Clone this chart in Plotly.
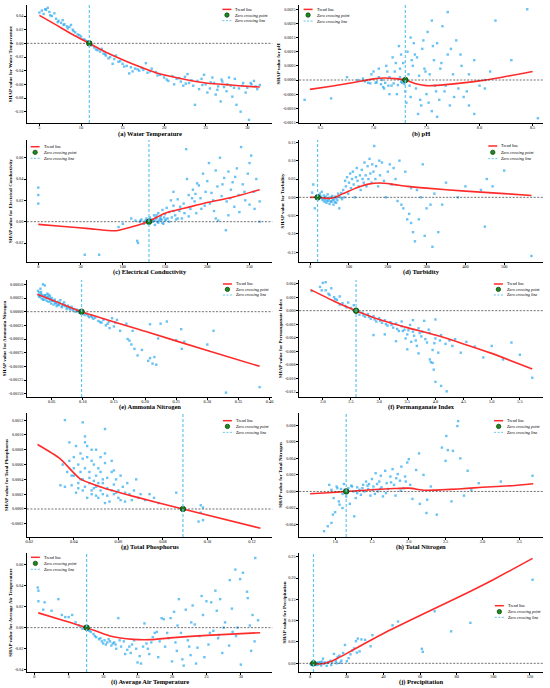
import plotly.graph_objs as go

# ---------------- data ----------------
# (a) Water Temperature
wt_x = [5.0, 5.3, 5.7, 6.0, 6.2, 5.5, 6.5, 6.8, 7.0, 7.3,
        7.6, 8.0, 8.3, 8.6, 9.0, 9.3, 9.6, 10.0, 10.3, 10.7,
        8.8, 7.8, 11.3, 11.6, 12.0, 12.3, 12.7, 13.0, 13.5, 14.0,
        14.5, 15.0, 15.5, 16.0, 16.5, 17.0, 17.5, 18.0, 18.5, 19.0,
        12.5, 14.2, 16.2, 17.8, 19.5, 15.8, 13.8, 20.0, 20.5, 21.0,
        21.5, 22.0, 22.5, 23.0, 23.5, 24.0, 24.5, 25.0, 25.5, 26.0,
        26.5, 27.0, 27.5, 28.0, 28.5, 29.0, 29.5, 30.0, 30.5, 31.0,
        31.5, 22.3, 24.2, 25.2, 26.2, 27.2, 28.2, 28.7, 29.2, 30.2,
        23.7, 26.8, 25.8, 27.8, 21.2, 29.8, 30.8, 24.8, 22.8,
        5.8, 6.3, 7.2, 7.9, 8.4, 9.1, 9.8, 10.5, 11.8, 12.9,
        13.3, 14.7, 15.2, 16.8, 17.3, 18.3, 19.2, 20.3, 21.8, 22.6,
        23.3, 24.6, 25.6, 26.4, 27.6, 28.4, 29.4, 30.4, 31.2, 26.9]
wt_y = [0.045, 0.048, 0.050, 0.052, 0.046, 0.043, 0.040, 0.044, 0.036, 0.033,
        0.030, 0.028, 0.025, 0.024, 0.020, 0.016, 0.013, 0.010, 0.006, 0.003,
        0.027, 0.034, -0.003, -0.006, -0.010, -0.012, -0.015, -0.018, -0.020, -0.023,
        -0.027, -0.030, -0.033, -0.035, -0.037, -0.040, -0.039, -0.043, -0.037, -0.042,
        -0.008, -0.018, -0.041, -0.029, -0.046, -0.044, -0.030, -0.050, -0.055, -0.048,
        -0.052, -0.056, -0.049, -0.058, -0.062, -0.055, -0.052, -0.060, -0.066, -0.058,
        -0.063, -0.056, -0.070, -0.062, -0.052, -0.066, -0.058, -0.065, -0.060, -0.063,
        -0.061, -0.062, -0.067, -0.072, -0.075, -0.064, -0.078, -0.090, -0.100, -0.112,
        -0.090, -0.085, -0.050, -0.050, -0.060, -0.072, -0.055, -0.046, -0.045,
        0.049, 0.041, 0.031, 0.027, 0.022, 0.018, 0.012, 0.005, -0.009, -0.016,
        -0.022, -0.026, -0.034, -0.038, -0.036, -0.041, -0.047, -0.053, -0.051, -0.059,
        -0.054, -0.061, -0.057, -0.068, -0.060, -0.065, -0.062, -0.058, -0.067, -0.053]
wt_trend_x = [5, 7, 9, 11, 13, 15, 17, 19, 21, 23, 25, 27, 29, 31.5]
wt_trend_y = [0.041, 0.027, 0.013, 0.0, -0.013, -0.024, -0.034, -0.043, -0.049,
              -0.054, -0.058, -0.060, -0.062, -0.064]
wt_zero = 11.0

# (b) pH
ph_x = [6.35, 6.6, 6.75, 6.85, 6.9, 6.95, 7.0, 7.02, 7.05, 7.08,
        7.1, 7.12, 7.15, 7.17, 7.18, 7.2, 7.22, 7.24, 7.25, 7.27,
        7.28, 7.3, 7.32, 7.33, 7.35, 7.37, 7.38, 7.4, 7.41, 7.43,
        7.45, 7.46, 7.48, 7.5, 7.51, 7.53, 7.55, 7.57, 7.58, 7.6,
        7.62, 7.63, 7.65, 7.67, 7.7, 7.72, 7.75, 7.78, 7.8, 7.83,
        7.85, 7.9, 7.95, 8.0, 8.05, 8.1, 7.7, 7.55, 8.45, 8.55,
        7.95, 8.15, 8.05, 7.15, 7.05, 6.98, 7.35, 7.42, 7.6, 8.3,
        7.9, 7.25, 7.3, 6.92, 6.97, 7.03, 7.07, 7.11, 7.14, 7.19,
        7.23, 7.26, 7.29,
        7.21, 7.34, 7.39, 7.44, 7.49, 7.52, 7.56, 7.59, 7.64, 7.68,
        7.73, 7.76, 7.82, 7.88, 7.47, 7.36, 7.31, 7.26, 7.13, 7.09]
ph_y = [-0.0007, -0.00065, 0.0001, 0.0, 0.00005, -0.0001, 0.0003, -0.0001, 0.0004, 0.0,
        -0.0003, 0.0005, 0.0001, -0.0002, 0.0008, 0.0003, -0.0005, 0.0012, 0.0001, -0.0001,
        0.0006, -0.0004, 0.001, 0.0002, -0.0006, 0.0005, 0.0013, -0.0003, 0.0008, 0.00015,
        -0.0009, 0.0011, 0.0004, -0.0005, 0.0017, 0.0002, -0.0011, 0.0007, -0.0002, 0.0013,
        -0.0007, 0.0004, 0.0019, -0.0004, 0.0009, -0.0009, 0.0002, 0.0014, -0.0003, 0.0005,
        -0.0006, 0.0002, 0.0007, -0.0002, 0.0, 0.0003, 0.0024, 0.0021, 0.0025, -0.00135,
        -0.0012, 0.0021, -0.0003, -0.0005, 0.0001, 0.0002, 0.0015, -0.0012, -0.0013, 0.0007,
        -0.0009, 0.0004, 0.0, -0.00005, -0.00012, -0.00008, -0.00015, -0.0001, -0.0002, -0.00012,
        -0.00018, -0.00006, -0.00014,
        0.0006, -0.0002, 0.0009, -0.0007, 0.0003, -0.0008, 0.0012, -0.0004, 0.0006, -0.0002,
        0.0011, -0.0006, 0.0009, -0.0004, 0.0014, 0.0007, -0.0008, 0.0009, 0.0003, -0.00025]
ph_trend_x = [6.4, 6.6, 6.8, 7.0, 7.1, 7.2, 7.3, 7.4, 7.5, 7.6, 7.8, 8.0, 8.2, 8.5]
ph_trend_y = [-0.00033, -0.00022, -0.0001, 0.00004, 0.00007, 0.00005, 0.0, -0.00013,
              -0.0002, -0.00019, -0.00012, -0.00003, 0.00009, 0.0003]
ph_zero = 7.3

# (c) Electrical Conductivity
ec_x = [0, 0, 0, 55, 72, 117, 118, 95, 100, 110,
        115, 120, 122, 125, 127, 128, 130, 132, 134, 135,
        137, 138, 140, 142, 143, 145, 147, 148, 150, 152,
        153, 155, 157, 158, 160, 162, 165, 167, 170, 172,
        175, 176, 178, 180, 183, 185, 187, 190, 192, 195,
        197, 200, 202, 205, 207, 210, 212, 213, 215, 217,
        220, 222, 223, 225, 228, 230, 232, 235, 237, 240,
        242, 245, 248, 250, 252, 255, 258, 262, 262, 208,
        188, 165, 225, 160, 129, 131, 133, 136, 139, 141,
        144, 146, 149, 151,
        135, 138, 142, 145, 150, 155, 160, 163, 168, 173,
        178, 182, 186, 193, 198, 203, 210, 218, 227, 233,
        238, 244, 250, 256, 126, 121, 140, 147]
ec_y = [0.032, 0.025, 0.017, -0.031, -0.031, -0.018, -0.020, -0.005, -0.002, 0.003,
        0.001, 0.000, 0.002, -0.002, 0.001, 0.003, -0.001, 0.004, 0.000, 0.002,
        0.006, -0.003, 0.003, 0.008, 0.001, 0.005, 0.011, -0.002, 0.007, 0.013,
        0.003, 0.009, 0.020, 0.004, 0.015, 0.006, 0.021, 0.010, 0.003, 0.017,
        0.068, 0.040, 0.025, 0.012, 0.030, 0.019, 0.008, 0.034, 0.022, 0.045,
        0.015, 0.038, 0.055, 0.027, 0.020, 0.048, 0.033, 0.001, 0.060, 0.024,
        0.041, -0.008, 0.019, 0.047, 0.030, 0.037, 0.014, 0.050, 0.025, 0.070,
        0.035, 0.020, 0.045, 0.016, 0.062, 0.028, 0.040, 0.019, 0.000, 0.010,
        0.036, 0.003, 0.006, 0.028, 0.001, -0.002, 0.002, 0.001, 0.004, 0.000,
        0.003, 0.002, 0.004, 0.002,
        0.000, 0.001, -0.001, 0.002, 0.001, 0.000, 0.010, 0.002, 0.014, 0.008,
        0.005, 0.022, 0.026, 0.012, 0.028, 0.017, 0.003, 0.035, 0.022, 0.042,
        0.009, 0.028, 0.055, 0.012, 0.000, 0.001, 0.006, -0.001]
ec_trend_x = [0, 30, 60, 92, 110, 130, 150, 175, 200, 230, 262]
ec_trend_y = [-0.0025, -0.0045, -0.0065, -0.0085, -0.005, 0.0, 0.008, 0.013, 0.018, 0.023, 0.030]
ec_zero = 131

# (d) Turbidity
tu_x = [5, 8, 12, 20, 22, 25, 27, 30, 32, 35,
        37, 40, 42, 45, 47, 50, 52, 55, 57, 60,
        62, 65, 67, 70, 72, 75, 77, 80, 82, 85,
        88, 90, 92, 95, 98, 100, 103, 105, 108, 110,
        112, 115, 118, 120, 122, 125, 128, 130, 133, 135,
        138, 140, 143, 145, 148, 150, 153, 155, 158, 160,
        163, 165, 168, 170, 175, 178, 180, 185, 190, 195,
        200, 205, 210, 215, 220, 225, 230, 235, 240, 245,
        250, 255, 260, 265, 270, 275, 280, 285, 290, 295,
        310, 315, 320, 330, 340, 350, 400, 440, 450, 455,
        470, 500, 570, 380, 260, 300, 33, 38, 43, 48,
        53, 58, 63, 68, 26, 29]
tu_y = [0.013, 0.035, -0.03, 0.005, -0.005, 0.01, 0.0, 0.015, -0.008, 0.005,
        -0.012, 0.002, -0.015, 0.008, -0.01, -0.018, 0.0, -0.012, 0.004, -0.02,
        -0.006, 0.002, -0.015, -0.008, 0.01, -0.03, 0.0, 0.012, -0.005, 0.02,
        0.0, 0.045, 0.03, 0.055, 0.01, 0.04, 0.065, 0.025, 0.05, 0.07,
        0.035, 0.0, 0.055, 0.08, 0.045, 0.03, 0.06, 0.02, 0.075, 0.05,
        0.04, 0.095, 0.06, 0.03, 0.085, 0.05, 0.105, 0.065, 0.04, 0.09,
        0.07, 0.14, 0.05, 0.085, 0.03, 0.1, 0.06, 0.095, 0.045, 0.0,
        0.07, 0.09, 0.035, 0.08, 0.05, -0.01, 0.1, -0.02, -0.03, 0.07,
        -0.06, -0.045, -0.07, -0.095, -0.12, 0.02, -0.06, 0.0, 0.09, -0.105,
        -0.02, -0.135, 0.01, -0.095, -0.02, 0.04, 0.03, 0.02, -0.08, 0.05,
        0.03, 0.073, -0.16, 0.0, 0.025, -0.03, -0.003, -0.006, -0.009, -0.004,
        -0.011, -0.007, -0.013, -0.002, 0.004, -0.002]
tu_trend_x = [0, 18, 35, 50, 65, 80, 100, 120, 150, 180, 210, 250, 300, 400, 500, 570]
tu_trend_y = [0.0, 0.0, -0.002, -0.003, 0.0, 0.008, 0.017, 0.026, 0.036, 0.039,
              0.036, 0.03, 0.025, 0.017, 0.01, 0.005]
tu_zero = 19

# (e) Ammonia Nitrogen
an_x = [0.028, 0.029, 0.030, 0.031, 0.032, 0.033, 0.034, 0.035, 0.036, 0.037,
        0.038, 0.039, 0.040, 0.041, 0.042, 0.043, 0.044, 0.045, 0.046, 0.047,
        0.048, 0.049, 0.050, 0.052, 0.053, 0.055, 0.056, 0.058, 0.060, 0.062,
        0.064, 0.066, 0.068, 0.070, 0.072, 0.074, 0.076, 0.078, 0.080, 0.082,
        0.085, 0.088, 0.090, 0.093, 0.095, 0.100, 0.103, 0.106, 0.110, 0.113,
        0.117, 0.120, 0.125, 0.130, 0.133, 0.137, 0.140, 0.143, 0.147, 0.150,
        0.155, 0.160, 0.170, 0.172, 0.175, 0.178, 0.180, 0.183, 0.188, 0.195,
        0.205, 0.208, 0.212, 0.215, 0.218, 0.208, 0.225, 0.235, 0.221, 0.250,
        0.263, 0.258, 0.259, 0.300, 0.310, 0.330, 0.384,
        0.030, 0.033, 0.036, 0.039, 0.042, 0.045, 0.048, 0.051, 0.054, 0.057,
        0.060, 0.063, 0.067, 0.071, 0.075, 0.079, 0.084, 0.091, 0.097, 0.108,
        0.115, 0.128, 0.142, 0.152]
an_y = [0.00038, 0.0003, 0.00035, 0.00027, 0.00042, 0.00032, 0.00024, 0.0003, 0.0005, 0.00028,
        0.00022, 0.00048, 0.0003, 0.00025, 0.0002, 0.00033, 0.00027, 0.00018, 0.00024, 0.00029,
        0.0002, 0.00015, 0.00025, 0.0002, 0.00013, 0.00022, 0.00016, 0.0001, 0.00018, 0.00012,
        0.00021, 0.00008, 0.00014, 0.00017, 0.0001, 0.00005, 0.00011, 0.00008, 0.00004, 0.00009,
        0.00005, 0.0, 0.00004, 0.00002, -0.00002, -0.00003, -0.00006, -0.00004, -0.0001, -0.00008,
        -0.00013, -0.00011, -0.00017, -0.0002, -0.00015, -0.00025, -0.00022, -0.0003, -0.00012, -0.00027,
        -0.00015, -0.00035, -0.00022, -0.0005, -0.00053, -0.0006, -0.00035, -0.00068, -0.0008, -0.0007,
        -0.0009, -0.00085, -0.00095, -0.00083, -0.00097, -0.00023, -0.00022, -0.00018, -0.00049, -0.00052,
        -0.00055, -0.00032, -0.00068, -0.0006, -0.00035, -0.00148, -0.00138,
        0.00028, 0.00036, 0.00022, 0.0003, 0.00026, 0.00031, 0.00024, 0.0002, 0.00019, 0.00015,
        0.00013, 0.00016, 0.0001, 0.00012, 0.00008, 0.00006, 0.00003, 0.00001, -0.00001, -0.00007,
        -0.0001, -0.00019, -0.00018, -0.0002]
an_trend_x = [0.027, 0.06, 0.098, 0.2, 0.3, 0.384]
an_trend_y = [0.00032, 0.00017, 0.0, -0.00036, -0.00071, -0.00100]
an_zero = 0.098

# (f) Permanganate Index
pi_x = [1.8, 1.95, 2.0, 2.05, 2.1, 2.15, 2.2, 2.25, 2.3, 2.35,
        2.4, 2.45, 2.5, 2.55, 2.6, 2.65, 2.7, 2.75, 2.8, 2.85,
        2.9, 2.95, 3.0, 3.05, 3.1, 3.15, 3.2, 3.25, 3.3, 3.35,
        3.4, 3.45, 3.5, 3.55, 3.6, 3.65, 3.7, 3.75, 3.8, 3.85,
        3.9, 3.95, 4.0, 4.05, 4.1, 3.92, 3.95, 3.97, 4.3, 4.35,
        4.0, 4.1, 4.2, 4.55, 4.7, 4.85, 5.0, 5.2, 5.35, 5.5,
        5.72, 3.3, 3.5, 3.7, 3.9, 4.0, 3.6, 2.9, 3.1, 3.4,
        4.25, 4.45, 2.3, 2.05,
        2.72, 2.82, 2.92, 3.02, 3.12, 3.22, 3.32, 3.42, 3.52, 3.62,
        3.72, 3.82, 3.88, 3.98, 4.08, 4.18, 3.47, 3.57, 3.67, 3.77,
        2.22, 2.12, 1.98, 2.42]
pi_y = [0.0029, 0.0035, 0.0041, 0.003, 0.0025, 0.0033, 0.002, 0.0016, 0.0021, 0.0011,
        0.0007, 0.0012, 0.0004, 0.0008, -0.0002, -0.0006, -0.0003, -0.0009, -0.0005, -0.0012,
        -0.0008, -0.0016, -0.0011, -0.0018, -0.0014, -0.0022, -0.0017, -0.0025, -0.0019, -0.003,
        -0.0023, -0.0028, -0.0035, -0.0021, -0.0031, -0.0044, -0.0026, -0.0038, -0.0015, -0.0047,
        -0.0033, -0.0058, -0.0041, -0.0062, -0.0036, -0.0076, -0.0077, -0.0087, -0.0052, -0.0042,
        -0.0105, -0.0111, -0.0119, -0.0046, -0.0053, -0.0069, -0.0052, -0.0072, -0.0047, -0.0065,
        -0.0099, -0.0045, -0.0057, -0.0063, -0.0072, -0.0013, -0.0014, -0.0036, -0.0035, -0.0016,
        -0.0044, -0.0062, 0.0009, 0.0042,
        -0.0007, -0.0009, -0.0013, -0.0015, -0.002, -0.0021, -0.0027, -0.003, -0.0029, -0.0037,
        -0.0033, -0.0042, -0.0028, -0.0048, -0.0044, -0.0049, -0.0041, -0.0046, -0.0052, -0.0031,
        0.0017, 0.0023, 0.003, 0.0005]
pi_trend_x = [1.78, 2.2, 2.59, 3.0, 3.5, 4.0, 4.5, 5.0, 5.72]
pi_trend_y = [0.0031, 0.0014, 0.0, -0.0013, -0.0025, -0.0036, -0.0049, -0.0063, -0.0086]
pi_zero = 2.59

# (g) Total Phosphorus
tp_x = [0.036, 0.044, 0.054, 0.038, 0.040, 0.035, 0.037, 0.039, 0.036, 0.041,
        0.042, 0.043, 0.044, 0.045, 0.045, 0.046, 0.047, 0.047, 0.048, 0.048,
        0.049, 0.050, 0.050, 0.051, 0.052, 0.052, 0.053, 0.053, 0.054, 0.055,
        0.055, 0.056, 0.057, 0.058, 0.058, 0.059, 0.060, 0.060, 0.061, 0.062,
        0.063, 0.064, 0.065, 0.066, 0.067, 0.068, 0.069, 0.070, 0.072, 0.074,
        0.076, 0.078, 0.086, 0.040, 0.042, 0.044, 0.046, 0.049, 0.051, 0.054,
        0.057, 0.043, 0.048, 0.052, 0.097, 0.097, 0.098, 0.096, 0.098, 0.039,
        0.041, 0.045, 0.050, 0.034,
        0.038, 0.040, 0.043, 0.045, 0.047, 0.049, 0.051, 0.053, 0.055, 0.057,
        0.059, 0.061, 0.063, 0.046, 0.050, 0.054, 0.042, 0.048, 0.044, 0.058]
tp_y = [0.0012, 0.00117, 0.00108, 0.0009, 0.0007, 0.0006, 0.0005, 0.00045, 0.0003, 0.00085,
        0.0006, 0.0004, 0.00025, 0.0009, 0.00098, 0.0007, 0.0005, 0.00035, 0.0002, 0.0008,
        0.0006, 0.00045, 0.0003, 0.00015, 0.0007, 0.0005, 0.00035, 0.0002, 0.00062, 0.00042,
        0.00028, 0.0001, 0.0005, 0.00033, 0.0002, 0.0004, 0.00025, 0.00015, 0.00045, 0.0003,
        0.0001, 0.00035, 0.0002, 0.00012, 0.00025, 0.0004, 0.00015, 0.0002, 0.00012, 0.0002,
        0.00015, 0.00008, 0.00022, 0.00055, 0.00028, 0.0004, 0.00015, 0.00038, 0.00055, 0.00008,
        0.00065, 0.00075, 0.00025, 0.00025, 0.00005, -0.00005, -0.00015, -0.00017, 0.00002, 0.00032,
        0.00022, 0.0003, 0.00018, 0.00032,
        0.00065, 0.00045, 0.0005, 0.00055, 0.00042, 0.00028, 0.00035, 0.0004, 0.00018, 0.00025,
        0.00022, 0.00012, 0.00022, 0.00085, 0.0008, 0.00075, 0.00035, 0.00065, 0.00068, 0.00052]
tp_trend_x = [0.0237, 0.0338, 0.0427, 0.0518, 0.0668, 0.089, 0.1238]
tp_trend_y = [0.00087, 0.00068, 0.00041, 0.0003, 0.00017, 0.0, -0.00026]
tp_zero = 0.089

# (h) Total Nitrogen
tn_x = [0.85, 0.9, 0.95, 0.97, 1.0, 0.92, 0.95, 0.98, 1.02, 1.05,
        1.08, 1.1, 1.12, 1.15, 1.18, 1.2, 1.22, 1.25, 1.28, 1.3,
        1.33, 1.35, 1.38, 1.4, 1.42, 1.45, 1.48, 1.5, 1.52, 1.55,
        1.58, 1.6, 1.62, 1.65, 1.68, 1.7, 1.72, 1.75, 1.78, 1.8,
        1.82, 1.85, 1.88, 1.9, 1.93, 1.95, 1.98, 2.0, 2.02, 2.05,
        2.1, 2.14, 2.15, 2.2, 2.25, 2.3, 2.24, 2.38, 2.45, 2.51,
        2.5, 2.53, 2.6, 2.67, 2.66, 2.7, 2.58, 2.8, 2.85, 2.95,
        3.25, 3.68, 2.75, 1.26, 1.13, 1.06,
        1.03, 1.1, 1.17, 1.23, 1.3, 1.37, 1.44, 1.51, 1.57, 1.63,
        1.69, 1.76, 1.83, 1.89, 1.96, 1.46, 1.54, 1.61]
tn_y = [-0.0048, -0.0042, -0.0038, -0.0028, -0.0025, 0.0008, 0.0002, -0.0008, 0.0006, -0.0012,
        0.0003, -0.002, 0.0009, -0.0006, 0.0004, -0.0015, 0.0007, 0.0, -0.0008, 0.0005,
        0.0002, -0.0004, 0.0008, 0.0, 0.0012, 0.0003, -0.0005, 0.0015, 0.0006, 0.0022,
        0.0, 0.0012, 0.0019, -0.0006, 0.0025, 0.001, 0.0003, 0.0018, 0.0027, 0.0008,
        -0.0005, 0.0021, 0.0013, 0.003, 0.0004, 0.0018, 0.0035, 0.0039, 0.0008, -0.0009,
        0.0026, 0.0046, -0.0015, 0.002, -0.001, 0.0006, -0.0026, -0.0028, 0.0053, 0.0067,
        0.0037, 0.005, 0.0049, 0.0085, 0.0079, 0.004, -0.0012, 0.0025, 0.0002, 0.001,
        0.0012, 0.0019, -0.0005, -0.003, 0.0002, -0.0016,
        0.0004, -0.0003, 0.0001, 0.0006, -0.0002, 0.0004, 0.0007, 0.0002, 0.0009, 0.0005,
        -0.0002, 0.0011, 0.0016, 0.0001, 0.0012, 0.0009, -0.0003, 0.0003]
tn_trend_x = [0.66, 0.9, 1.15, 1.35, 1.55, 1.8, 2.0, 2.22, 2.45, 2.67, 3.0, 3.4, 3.69]
tn_trend_y = [-0.00028, -0.00015, 0.0, 0.00012, 0.00024, 0.00035, 0.0004, 0.00015,
              0.0002, 0.0003, 0.0005, 0.0007, 0.00093]
tn_zero = 1.15

# (i) Average Air Temperature
at_x = [0.5, 0.6, 0.6, 1.5, 1.3, 3.5, 2.5, 4.0, 4.5, 5.0,
        5.5, 6.0, 6.5, 7.0, 7.3, 7.8, 8.2, 8.6, 9.0, 9.4,
        9.8, 10.2, 10.6, 11.0, 11.4, 11.8, 12.2, 12.6, 13.0, 13.5,
        14.0, 14.5, 15.0, 15.5, 16.0, 16.3, 16.7, 17.0, 17.5, 18.0,
        18.5, 19.0, 19.5, 20.0, 20.3, 20.7, 21.0, 21.3, 21.7, 22.0,
        22.3, 22.7, 23.0, 23.3, 23.7, 24.0, 24.3, 24.7, 25.0, 25.3,
        25.7, 26.0, 26.3, 26.7, 27.0, 27.3, 27.7, 28.4, 28.3, 28.7,
        29.2, 29.3, 29.9, 30.0, 30.3, 30.9, 31.0, 31.3, 31.7, 32.0,
        32.5, 32.1, 26.8, 22.8, 18.8, 14.8, 13.2, 11.9, 10.4, 29.5,
        27.5, 25.5, 19.8, 17.8, 23.5, 21.5, 20.5, 15.8, 16.5,
        8.0, 8.8, 9.6, 10.0, 10.8, 11.2, 11.6, 12.4, 13.8, 14.2,
        15.3, 17.2, 18.2, 19.3, 20.8, 22.5, 24.5, 26.5, 28.8, 31.5]
at_y = [0.038, 0.035, 0.025, 0.024, 0.017, 0.027, 0.016, 0.012, 0.01, 0.01,
        0.012, 0.005, 0.002, -0.001, 0.001, -0.002, -0.004, -0.006, -0.009, -0.011,
        -0.013, -0.012, -0.014, -0.013, -0.015, -0.016, 0.009, -0.018, -0.013, -0.021,
        -0.024, -0.012, -0.033, -0.034, 0.004, -0.015, -0.025, -0.014, -0.005, -0.028,
        0.009, -0.018, -0.01, -0.032, 0.015, -0.022, 0.027, -0.005, -0.036, 0.017,
        -0.012, -0.026, 0.021, 0.003, -0.019, -0.008, 0.03, -0.028, 0.025, -0.016,
        0.024, -0.003, 0.035, -0.01, 0.027, -0.024, 0.005, 0.045, -0.017, 0.018,
        0.055, -0.008, 0.046, -0.035, 0.052, 0.034, 0.028, 0.002, 0.012, -0.013,
        0.007, 0.066, -0.007, 0.005, 0.008, -0.02, -0.025, -0.02, -0.016, 0.0,
        0.0, -0.005, 0.009, -0.004, -0.034, -0.03, -0.014, -0.018, -0.02,
        -0.003, -0.008, -0.01, -0.015, -0.011, -0.017, -0.014, -0.012, -0.018, -0.016,
        -0.027, -0.009, -0.013, -0.005, 0.002, -0.018, 0.012, 0.016, -0.004, -0.022]
at_trend_x = [0.58, 4, 7.6, 11.0, 14.4, 16.8, 20.2, 25.05, 32.8]
at_trend_y = [0.014, 0.0073, 0.0, -0.0079, -0.0111, -0.0114, -0.0095, -0.0073, -0.0048]
at_zero = 7.6

# (j) Precipitation
pr_x = [0.2, 0.5, 0.8, 1.0, 1.5, 2.0, 2.5, 3.0, 3.5, 4.0,
        4.5, 5.0, 5.5, 6.0, 6.5, 7.0, 7.5, 8.0, 9.0, 10.0,
        11.0, 12.0, 13.0, 14.0, 15.0, 16.0, 17.0, 18.0, 19.0, 20.0,
        22.0, 23.0, 24.0, 25.0, 26.0, 27.0, 28.0, 30.0, 33.0, 34.0,
        45.0, 48.0, 61.0, 61.5, 68.0, 77.0, 87.5, 121.5, 2.8, 1.2,
        3.7, 4.8, 9.5, 14.5, 16.5, 11.5, 21.0, 25.5]
pr_y = [-0.002, 0.0, -0.004, 0.001, -0.003, 0.002, -0.001, -0.003, 0.001, -0.004,
        0.002, -0.002, 0.003, -0.005, 0.004, 0.011, -0.001, 0.002, -0.006, 0.003,
        0.006, 0.002, 0.022, 0.005, 0.015, 0.018, 0.006, 0.024, 0.043, 0.005,
        0.021, 0.03, 0.035, 0.052, 0.058, 0.028, 0.056, 0.055, 0.04, 0.066,
        0.089, 0.098, 0.034, 0.027, 0.122, 0.075, 0.095, 0.196, 0.0, -0.002,
        -0.002, 0.0, 0.001, 0.0, 0.001, -0.004, 0.012, 0.025]
pr_trend_x = [0, 1.8, 5, 8, 11, 15, 20, 30, 40, 60, 80, 100, 121.5]
pr_trend_y = [0.0, 0.0, -0.0015, 0.0, 0.004, 0.012, 0.0234, 0.047, 0.07, 0.112, 0.153, 0.196, 0.246]
pr_zero = 1.8

labels = ["Water Temperature", "pH", "Electrical Conductivity", "Turbidity",
          "Ammonia Nitrogen", "Permanganate Index", "Total Phosphorus",
          "Total Nitrogen", "Average Air Temperature", "Precipitation"]
letters = ["a", "b", "c", "d", "e", "f", "g", "h", "i", "j"]

# ---------------- figure ----------------
FONT = "Liberation Serif"
BLUE_LINE = "#62c6ea"
col_dom = [[0.049, 0.495], [0.544, 0.987]]
row_dom = [[0.8212, 0.9927], [0.6192, 0.7965], [0.4230, 0.5930],
           [0.2195, 0.3997], [0.0233, 0.1962]]

# y ticks: (first, step, count, decimals)
panels = [
    dict(px=wt_x, py=wt_y, tx=wt_trend_x, ty=wt_trend_y, z=wt_zero,
         xr=[3.5, 33.0], yr=[-0.1166, 0.0561], xt=(5, 5, "d"), yt=(-0.10, 0.02, 8, 2),
         leg=(0.797, [0.963, 0.915, 0.867])),
    dict(px=ph_x, py=ph_y, tx=ph_trend_x, ty=ph_trend_y, z=ph_zero,
         xr=[6.299, 8.597], yr=[-0.00152, 0.00265], xt=(6.5, 0.5, ".1f"), yt=(-0.0015, 0.0005, 9, 4),
         leg=(0.018, [0.963, 0.915, 0.864])),
    dict(px=ec_x, py=ec_y, tx=ec_trend_x, ty=ec_trend_y, z=ec_zero,
         xr=[-13.4, 276.9], yr=[-0.0378, 0.0766], xt=(0, 50, "d"), yt=(-0.02, 0.02, 5, 2),
         leg=(0.015, [0.945, 0.899, 0.85])),
    dict(px=tu_x, py=tu_y, tx=tu_trend_x, ty=tu_trend_y, z=tu_zero,
         xr=[-28.3, 599.5], yr=[-0.1764, 0.1564], xt=(0, 100, "d"), yt=(-0.15, 0.05, 7, 2),
         leg=(0.776, [0.951, 0.899, 0.847])),
    dict(px=an_x, py=an_y, tx=an_trend_x, ty=an_trend_y, z=an_zero,
         xr=[0.0103, 0.4043], yr=[-0.00156, 0.000579], xt=(0.05, 0.05, ".2f"), yt=(-0.0015, 0.00025, 9, 5),
         leg=(0.799, [0.966, 0.92, 0.872])),
    dict(px=pi_x, py=pi_y, tx=pi_trend_x, ty=pi_trend_y, z=pi_zero,
         xr=[1.58, 5.908], yr=[-0.01273, 0.00452], xt=(2.0, 0.5, ".1f"), yt=(-0.012, 0.002, 9, 3),
         leg=(0.799, [0.966, 0.92, 0.872])),
    dict(px=tp_x, py=tp_y, tx=tp_trend_x, ty=tp_trend_y, z=tp_zero,
         xr=[0.01895, 0.1291], yr=[-0.000378, 0.001296], xt=(0.02, 0.02, ".2f"), yt=(-0.0002, 0.0002, 8, 4),
         leg=(0.799, [0.938, 0.892, 0.844])),
    dict(px=tn_x, py=tn_y, tx=tn_trend_x, ty=tn_trend_y, z=tn_zero,
         xr=[0.512, 3.821], yr=[-0.0055, 0.00948], xt=(1.0, 0.5, ".1f"), yt=(-0.004, 0.002, 7, 3),
         leg=(0.8, [0.938, 0.892, 0.844])),
    dict(px=at_x, py=at_y, tx=at_trend_x, ty=at_trend_y, z=at_zero,
         xr=[-1.066, 34.56], yr=[-0.042, 0.0707], xt=(0, 5, "d"), yt=(-0.04, 0.02, 6, 2),
         leg=(0.016, [0.964, 0.913, 0.863])),
    dict(px=pr_x, py=pr_y, tx=pr_trend_x, ty=pr_trend_y, z=pr_zero,
         xr=[-6.0, 127.1], yr=[-0.0203, 0.2586], xt=(0, 20, "d"), yt=(0.0, 0.05, 6, 2),
         leg=(0.803, [0.557, 0.507, 0.459])),
]

fig = go.Figure()
shapes = []
annotations = []
layout_axes = {}

for i, p in enumerate(panels):
    k = i + 1
    xa = "x" if k == 1 else "x%d" % k
    ya = "y" if k == 1 else "y%d" % k
    row, col = divmod(i, 2)

    fig.add_trace(go.Scatter(x=p["px"], y=p["py"], mode="markers", xaxis=xa, yaxis=ya,
                             marker=dict(color="rgba(40,168,240,0.7)", size=2.4, symbol="square"),
                             cliponaxis=False, showlegend=False))
    fig.add_trace(go.Scatter(x=p["tx"], y=p["ty"], mode="lines", xaxis=xa, yaxis=ya,
                             line=dict(color="#ff2a2a", width=1.6, shape="spline", smoothing=0.6),
                             showlegend=False))
    fig.add_trace(go.Scatter(x=[p["z"]], y=[0], mode="markers", xaxis=xa, yaxis=ya,
                             marker=dict(color="#1b8a1b", size=5.5, line=dict(color="#0a3a0a", width=0.8)),
                             showlegend=False))

    # zero reference lines
    shapes.append(dict(type="line", xref=xa + " domain", yref=ya, x0=0, x1=1, y0=0, y1=0,
                       line=dict(color="#333333", width=0.7, dash="2px,1.5px")))
    shapes.append(dict(type="line", xref=xa, yref=ya + " domain", x0=p["z"], x1=p["z"], y0=0, y1=1,
                       line=dict(color=BLUE_LINE, width=1.2, dash="3px,2px")))

    # hand-made legend
    fx, fys = p["leg"]
    shapes.append(dict(type="line", xref=xa + " domain", yref=ya + " domain",
                       xsizemode="pixel", xanchor=fx, x0=0, x1=9,
                       ysizemode="pixel", yanchor=fys[0], y0=0, y1=0,
                       line=dict(color="#ff2a2a", width=1.5)))
    shapes.append(dict(type="circle", xref=xa + " domain", yref=ya + " domain",
                       xsizemode="pixel", xanchor=fx, x0=2.3, x1=6.7,
                       ysizemode="pixel", yanchor=fys[1], y0=-2.2, y1=2.2,
                       fillcolor="#1b8a1b", line=dict(color="#0a3a0a", width=0.7)))
    shapes.append(dict(type="line", xref=xa + " domain", yref=ya + " domain",
                       xsizemode="pixel", xanchor=fx, x0=0, x1=9,
                       ysizemode="pixel", yanchor=fys[2], y0=0, y1=0,
                       line=dict(color=BLUE_LINE, width=1.0, dash="2px,1.5px")))
    for txt, fy in zip(["Trend line", "<i>Zero crossing point</i>", "<i>Zero crossing line</i>"], fys):
        annotations.append(dict(xref=xa + " domain", yref=ya + " domain", x=fx, y=fy,
                                xanchor="left", yanchor="middle", xshift=11, showarrow=False,
                                text=txt, font=dict(family=FONT, size=4.2, color="black")))

    # panel caption under the x axis
    annotations.append(dict(xref=xa + " domain", yref=ya + " domain", x=0.5, y=0,
                            xanchor="center", yanchor="middle", yshift=-10.5, showarrow=False,
                            text="(%s) %s" % (letters[i], labels[i]),
                            font=dict(family=FONT, size=6.5, color="black", weight="bold")))

    x0, xd, xf = p["xt"]
    y0, yd, yn, ydec = p["yt"]
    yvals = [round(y0 + j * yd, 8) for j in range(yn)]
    ytext = ["%.*f" % (ydec, v) for v in yvals]
    layout_axes["xaxis" if k == 1 else "xaxis%d" % k] = dict(
        domain=col_dom[col], anchor=ya, range=p["xr"], tick0=x0, dtick=xd, tickformat=xf,
        showline=True, linecolor="black", linewidth=0.8, showgrid=False, zeroline=False,
        ticks="outside", ticklen=2, tickwidth=0.6, tickcolor="black", ticklabelstandoff=-2,
        tickfont=dict(family=FONT, size=4.3, color="black"), automargin=False)
    layout_axes["yaxis" if k == 1 else "yaxis%d" % k] = dict(
        domain=row_dom[row], anchor=xa, range=p["yr"], tickvals=yvals, ticktext=ytext,
        showline=True, linecolor="black", linewidth=0.8, showgrid=False, zeroline=False,
        ticks="outside", ticklen=2, tickwidth=0.6, tickcolor="black",
        tickfont=dict(family=FONT, size=4.1, color="black"), automargin=False,
        title=dict(text="SHAP value for %s" % labels[i], standoff=1.5,
                   font=dict(family=FONT, size=5, color="black", weight="bold")))

fig.update_layout(width=550, height=688, margin=dict(l=0, r=0, t=0, b=0),
                  paper_bgcolor="white", plot_bgcolor="white",
                  font=dict(family=FONT), shapes=shapes, annotations=annotations,
                  **layout_axes)

# the page keeps the browser's default 8px body margin unless it is removed
fig.write_html("out.html", config={"displayModeBar": False},
               post_script="document.body.style.margin='0px';document.body.style.overflow='hidden';")
